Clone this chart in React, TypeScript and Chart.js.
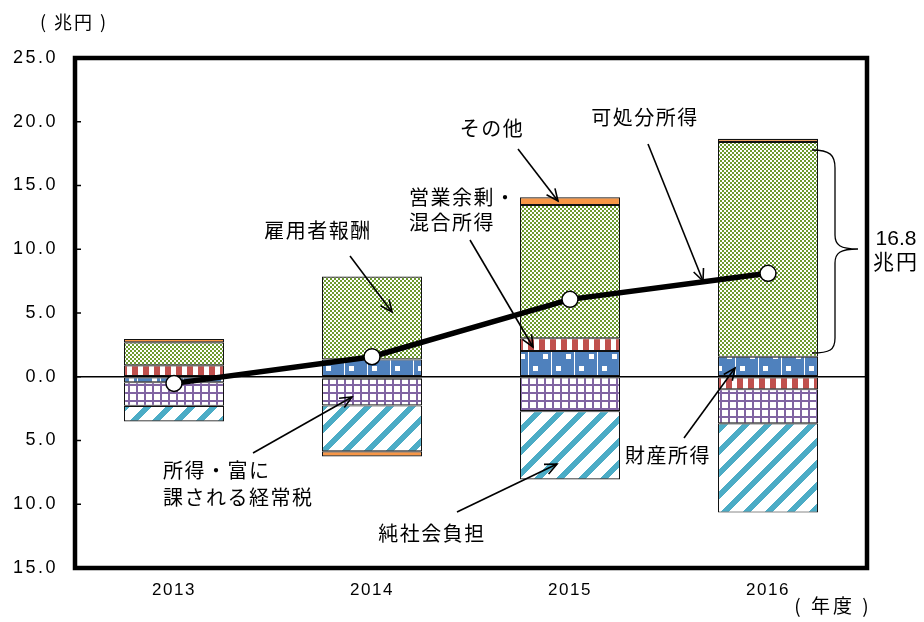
import { useEffect, useRef } from 'react';
import { Chart, registerables } from 'chart.js';
Chart.register(...registerables);

// ---- data ----
const years = ['2013', '2014', '2015', '2016'];
const propertyIncome = [-0.43, 1.36, 2.02, 1.57]; // 財産所得
const operatingSurplus = [0.9, -0.15, 1.0, -0.98]; // 営業余剰・混合所得
const compensation = [1.8, 6.5, 10.45, 16.85]; // 雇用者報酬
const currentTaxes = [-1.85, -2.1, -2.7, -2.67]; // 所得・富に課される経常税
const socialContrib = [-1.22, -3.6, -5.35, -7.0]; // 純社会負担
const others = [0.27, -0.4, 0.6, 0.24]; // その他
const disposableIncome = [-0.52, 1.57, 6.07, 8.11]; // 可処分所得
const yMin = -15;
const yMax = 25;
const yStep = 5;

const JP = "'Noto Sans CJK JP', 'Noto Sans', sans-serif";
const LAT = "'Liberation Sans', Arial, sans-serif";

function tile(ctx: CanvasRenderingContext2D, w: number, h: number, draw: (g: CanvasRenderingContext2D) => void) {
  const c = document.createElement('canvas');
  c.width = w;
  c.height = h;
  const g = c.getContext('2d')!;
  draw(g);
  return ctx.createPattern(c, 'repeat')!;
}

function arrow(ctx: CanvasRenderingContext2D, x1: number, y1: number, x2: number, y2: number) {
  ctx.beginPath();
  ctx.moveTo(x1, y1);
  ctx.lineTo(x2, y2);
  ctx.stroke();
  const a = Math.atan2(y2 - y1, x2 - x1);
  const L = 13;
  const sp = 0.42;
  ctx.beginPath();
  ctx.moveTo(x2 - L * Math.cos(a - sp), y2 - L * Math.sin(a - sp));
  ctx.lineTo(x2, y2);
  ctx.lineTo(x2 - L * Math.cos(a + sp), y2 - L * Math.sin(a + sp));
  ctx.stroke();
}

function text(ctx: CanvasRenderingContext2D, s: string, x: number, y: number, font: string, align: CanvasTextAlign = 'center', spacing = '0px') {
  ctx.font = font;
  (ctx as any).letterSpacing = spacing;
  ctx.textAlign = align;
  ctx.textBaseline = 'middle';
  ctx.fillStyle = '#000';
  ctx.fillText(s, x, y);
  (ctx as any).letterSpacing = '0px';
}

export default function App() {
  const ref = useRef<HTMLCanvasElement>(null);

  useEffect(() => {
    const canvas = ref.current!;
    const ctx = canvas.getContext('2d')!;

    const green = tile(ctx, 4, 4, (g) => {
      g.fillStyle = '#ffffff';
      g.fillRect(0, 0, 4, 4);
      g.fillStyle = '#6c9a2e';
      g.fillRect(0, 0, 2, 2);
      g.fillRect(2, 2, 2, 2);
    });
    const red = tile(ctx, 11, 4, (g) => {
      g.fillStyle = '#ffffff';
      g.fillRect(0, 0, 11, 4);
      g.fillStyle = '#c0504d';
      g.fillRect(0, 0, 6, 4);
    });
    const blue = tile(ctx, 23, 24, (g) => {
      g.fillStyle = '#4f81bd';
      g.fillRect(0, 0, 23, 24);
      g.fillStyle = '#ffffff';
      g.fillRect(22, 0, 1, 24);
      g.fillRect(4, 6, 5, 5);
      g.fillRect(14, 18, 5, 5);
    });
    const purple = tile(ctx, 8, 8, (g) => {
      g.fillStyle = '#ffffff';
      g.fillRect(0, 0, 8, 8);
      g.fillStyle = '#8064a2';
      g.fillRect(0, 0, 8, 2);
      g.fillRect(0, 0, 2, 8);
    });
    const cyan = tile(ctx, 22, 22, (g) => {
      g.fillStyle = '#ffffff';
      g.fillRect(0, 0, 22, 22);
      g.fillStyle = '#4bacc6';
      for (let y = 0; y < 22; y++) {
        for (let x = 0; x < 22; x++) {
          if ((x + y) % 22 < 8) g.fillRect(x, y, 1, 1);
        }
      }
    });
    const orange = '#f79646';

    const barCommon = {
      type: 'bar' as const,
      borderColor: '#111',
      borderWidth: 1.1,
      borderSkipped: false as const,
      barPercentage: 0.505,
      categoryPercentage: 1,
      order: 1,
      stack: 'bars',
    };

    const decor = {
      id: 'decor',
      beforeDraw(chart: any) {
        chart.ctx.letterSpacing = '2.5px';
      },
      beforeDatasetsDraw(chart: any) {
        chart.ctx.letterSpacing = '0px';
      },
      afterDraw(chart: any) {
        const c: CanvasRenderingContext2D = chart.ctx;
        const { left, right, top, bottom } = chart.chartArea;
        const ys = chart.scales.y;
        const xs = chart.scales.x;
        c.save();
        // inner tick marks
        c.strokeStyle = '#000';
        c.lineWidth = 1.5;
        ys.ticks.forEach((t: any) => {
          const py = ys.getPixelForValue(t.value);
          c.beginPath();
          c.moveTo(left, py);
          c.lineTo(left + 6, py);
          c.stroke();
        });
        // frame
        c.lineWidth = 4.5;
        c.strokeRect(left, top, right - left, bottom - top);

        // x labels
        chart.data.labels.forEach((lab: string, i: number) => {
          text(c, lab, xs.getPixelForValue(i), 590, `17px ${LAT}`, 'center', '1.5px');
        });

        // axis unit labels
        text(c, '( 兆円 )', 74, 22, `18px ${JP}`, 'center', '2px');
        text(c, '( 年度 )', 833, 606, `19px ${JP}`, 'center', '3px');

        // annotations
        const f = `20px ${JP}`;
        text(c, 'その他', 492, 128, f, 'center', '1.5px');
        text(c, '営業余剰・', 409, 197, f, 'left', '1.5px');
        text(c, '混合所得', 409, 222, f, 'left', '1.5px');
        text(c, '可処分所得', 645, 117, f, 'center', '1.5px');
        text(c, '雇用者報酬', 318, 230, f, 'center', '1.5px');
        text(c, '所得・富に', 163, 470, f, 'left', '1.5px');
        text(c, '課される経常税', 163, 497, f, 'left', '1.5px');
        text(c, '純社会負担', 432, 533, f, 'center', '1.5px');
        text(c, '財産所得', 668, 455, f, 'center', '1.5px');

        c.strokeStyle = '#000';
        c.lineWidth = 1.6;
        arrow(c, 518, 149, 558, 201);
        arrow(c, 470, 240, 533, 347);
        arrow(c, 350, 256, 392, 312);
        arrow(c, 648, 144, 703, 281);
        arrow(c, 253, 453, 352, 397);
        arrow(c, 457, 512, 557, 464);
        arrow(c, 684, 438, 735, 368);

        // brace
        c.lineWidth = 1.3;
        c.beginPath();
        c.moveTo(812, 150);
        c.bezierCurveTo(830, 150, 835, 155, 835, 168);
        c.lineTo(835, 235);
        c.bezierCurveTo(835, 245, 840, 249, 858, 249);
        c.bezierCurveTo(840, 249, 835, 253, 835, 263);
        c.lineTo(835, 338);
        c.bezierCurveTo(835, 350, 830, 353, 812, 353);
        c.stroke();

        text(c, '16.8', 896, 239, `21px ${LAT}`, 'center', '0px');
        text(c, '兆円', 896, 261, `21px ${JP}`, 'center', '2px');
        c.restore();
      },
    };

    const chart = new Chart(canvas, {
      type: 'bar',
      data: {
        labels: years,
        datasets: [
          {
            type: 'line',
            label: '可処分所得',
            data: disposableIncome,
            borderColor: '#000',
            borderWidth: 5.5,
            pointRadius: 8,
            pointBackgroundColor: '#fff',
            pointBorderColor: '#000',
            pointBorderWidth: 1.5,
            tension: 0,
            order: 0,
            stack: 'line',
          } as any,
          { ...barCommon, label: '財産所得', data: propertyIncome, backgroundColor: blue },
          { ...barCommon, label: '営業余剰・混合所得', data: operatingSurplus, backgroundColor: red },
          { ...barCommon, label: '雇用者報酬', data: compensation, backgroundColor: green },
          { ...barCommon, label: '所得・富に課される経常税', data: currentTaxes, backgroundColor: purple },
          { ...barCommon, label: '純社会負担', data: socialContrib, backgroundColor: cyan },
          { ...barCommon, label: 'その他', data: others, backgroundColor: orange },
        ],
      },
      options: {
        responsive: false,
        animation: false,
        devicePixelRatio: 1,
        layout: { padding: { left: 0, top: 58, right: 57, bottom: 0 } },
        plugins: { legend: { display: false }, tooltip: { enabled: false } },
        scales: {
          x: {
            stacked: true,
            grid: { display: false },
            border: { display: false },
            ticks: { display: false },
            afterFit: (s: any) => {
              s.height = 54;
            },
          },
          y: {
            stacked: true,
            min: yMin,
            max: yMax,
            border: { display: false },
            grid: {
              drawTicks: false,
              lineWidth: 1.5,
              color: (c: any) => (c.tick && c.tick.value === 0 ? '#000' : 'rgba(0,0,0,0)'),
            },
            ticks: {
              stepSize: yStep,
              padding: 17,
              color: '#000',
              font: { family: LAT, size: 18 },
              callback: (v: any) => Math.abs(Number(v)).toFixed(1),
            },
            afterFit: (s: any) => {
              s.width = 75;
            },
          },
        },
      },
      plugins: [decor],
    });
    return () => chart.destroy();
  }, []);

  return (
    <div style={{ position: 'fixed', left: 0, top: 0, width: 924, height: 622, background: '#fff' }}>
      <canvas ref={ref} width={924} height={622} style={{ display: 'block' }} />
    </div>
  );
}
